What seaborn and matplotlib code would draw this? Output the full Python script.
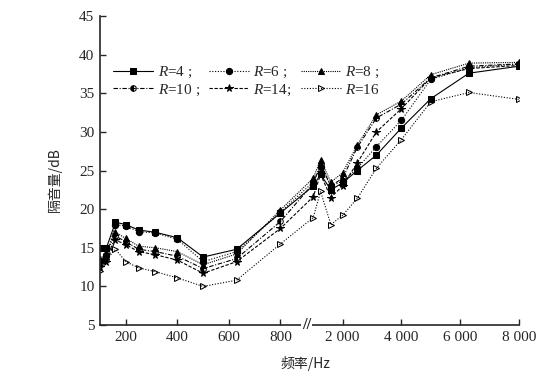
import numpy as np
import pandas as pd
import matplotlib
matplotlib.use("Agg")
import matplotlib.pyplot as plt
import matplotlib.transforms as mtransforms
import seaborn as sns

# 1/3 octave centre frequencies (Hz)
freqs = [100, 125, 160, 200, 250, 315, 400, 500, 630, 800,
         1000, 1250, 1600, 2000, 2500, 3150, 4000, 5000, 6300, 8000]

# sound insulation (dB)
r4 = [15.0, 15.0, 18.3, 18.0, 17.3, 17.0, 16.3, 13.8, 14.8, 19.5,
      23.0, 24.5, 22.5, 23.4, 25.0, 27.0, 30.5, 34.3, 37.6, 38.5]
r6 = [13.3, 14.0, 18.0, 17.8, 17.1, 16.9, 16.1, 13.2, 14.5, 19.6,
      23.5, 25.5, 23.0, 23.6, 25.3, 28.1, 31.5, 36.8, 38.3, 38.8]
r8 = [13.6, 14.2, 17.0, 16.2, 15.2, 15.0, 14.5, 12.8, 14.2, 19.9,
      24.0, 26.4, 23.5, 24.7, 28.3, 32.2, 34.0, 37.4, 38.9, 39.0]
r10 = [13.0, 13.5, 16.5, 15.8, 14.8, 14.5, 13.9, 12.3, 13.6, 18.4,
       23.3, 25.8, 23.0, 24.0, 28.0, 31.8, 33.6, 37.0, 38.5, 38.8]
r14 = [12.5, 13.2, 16.0, 15.4, 14.5, 14.1, 13.4, 11.7, 13.2, 17.5,
       21.6, 24.5, 21.5, 23.0, 26.0, 30.0, 33.0, 37.0, 38.2, 38.6]
r16 = [12.0, 13.5, 14.8, 13.2, 12.4, 11.9, 11.1, 10.0, 10.8, 15.5,
       18.9, 22.3, 18.0, 19.2, 21.4, 25.3, 29.0, 33.9, 35.1, 34.2]

labels = ["$R$=4 ;", "$R$=6 ;", "$R$=8 ;", "$R$=10 ;", "$R$=14;", "$R$=16"]
series = [r4, r6, r8, r10, r14, r16]

xticks = [200, 400, 600, 800, 2000, 4000, 6000, 8000]
xticklabels = ["200", "400", "600", "800", "2 000", "4 000", "6 000", "8 000"]

# broken x axis: two linear pieces joined between 800 and 1000 Hz
F_KNOTS = [100, 800, 1000, 8000]
P_KNOTS = [0.0, 180.0, 212.7, 418.0]


def fwd(f):
    return np.interp(f, F_KNOTS, P_KNOTS)


def inv(p):
    return np.interp(p, P_KNOTS, F_KNOTS)


sns.set_style("ticks")
plt.rcParams["font.family"] = ["Liberation Serif", "Noto Sans CJK SC"]
plt.rcParams["mathtext.fontset"] = "custom"
plt.rcParams["mathtext.it"] = "Liberation Serif:italic"
plt.rcParams["mathtext.rm"] = "Liberation Serif"

fig = plt.figure(figsize=(5.52, 3.80), dpi=100)
ax = fig.add_axes([0.1812, 0.1447, 0.759, 0.8132])

styles = [
    dict(marker="s", linestyle="-", markersize=4.5, fillstyle="full"),
    dict(marker="o", linestyle=(0, (1, 1.5)), markersize=4.5, fillstyle="full"),
    dict(marker="^", linestyle=(0, (1, 1)), markersize=4.5, fillstyle="full"),
    dict(marker="o", linestyle=(0, (4, 1.5, 1, 1.5)), markersize=4, fillstyle="left"),
    dict(marker="*", linestyle=(0, (3, 1.5)), markersize=5.5, fillstyle="full"),
    dict(marker=">", linestyle=(0, (1, 1.5)), markersize=5, fillstyle="none"),
]

for vals, lab, st in zip(series, labels, styles):
    df = pd.DataFrame({"freq": freqs, "tl": vals})
    sns.lineplot(data=df, x="freq", y="tl", ax=ax, color="black",
                 linewidth=0.8, markeredgecolor="black", markerfacecolor="black"
                 if st["fillstyle"] != "none" else "white",
                 label=lab, **st)

ax.set_xscale("function", functions=(fwd, inv))
ax.set_xlim(100, 8000)
ax.set_ylim(5, 45)
ax.set_xticks(xticks)
ax.set_xticklabels(xticklabels)
ax.set_yticks(range(5, 50, 5))
ax.minorticks_off()

for s in ["top", "right"]:
    ax.spines[s].set_visible(False)
for s in ["left", "bottom"]:
    ax.spines[s].set_linewidth(1.2)
ax.tick_params(direction="in", length=4, width=1, labelsize=11, pad=4)

ax.set_xlabel("频率/Hz", family=["Noto Sans CJK SC"], fontsize=10)
ax.set_ylabel("隔音量/dB", family=["Noto Sans CJK SC"], fontsize=10)
ax.xaxis.set_label_coords(0.49, -0.10)
ax.yaxis.set_label_coords(-0.09, 0.47)

# axis break mark
trans = mtransforms.blended_transform_factory(ax.transData, ax.transAxes)
ax.text(960, 0.0, "//", transform=trans, ha="center", va="center",
        fontsize=12, fontweight="bold", clip_on=False,
        bbox=dict(facecolor="white", edgecolor="none", pad=0.5))

# legend filled row by row (3 per row)
handles, labs = ax.get_legend_handles_labels()
order = [0, 3, 1, 4, 2, 5]
ax.legend([handles[i] for i in order], [labs[i] for i in order],
          loc="upper left", bbox_to_anchor=(0.01, 0.87), ncol=3, frameon=False,
          fontsize=11, handlelength=2.6, handletextpad=0.3, columnspacing=0.6,
          labelspacing=0.15, borderaxespad=0.2)

fig.savefig("out.png", dpi=100)
plt.close(fig)
